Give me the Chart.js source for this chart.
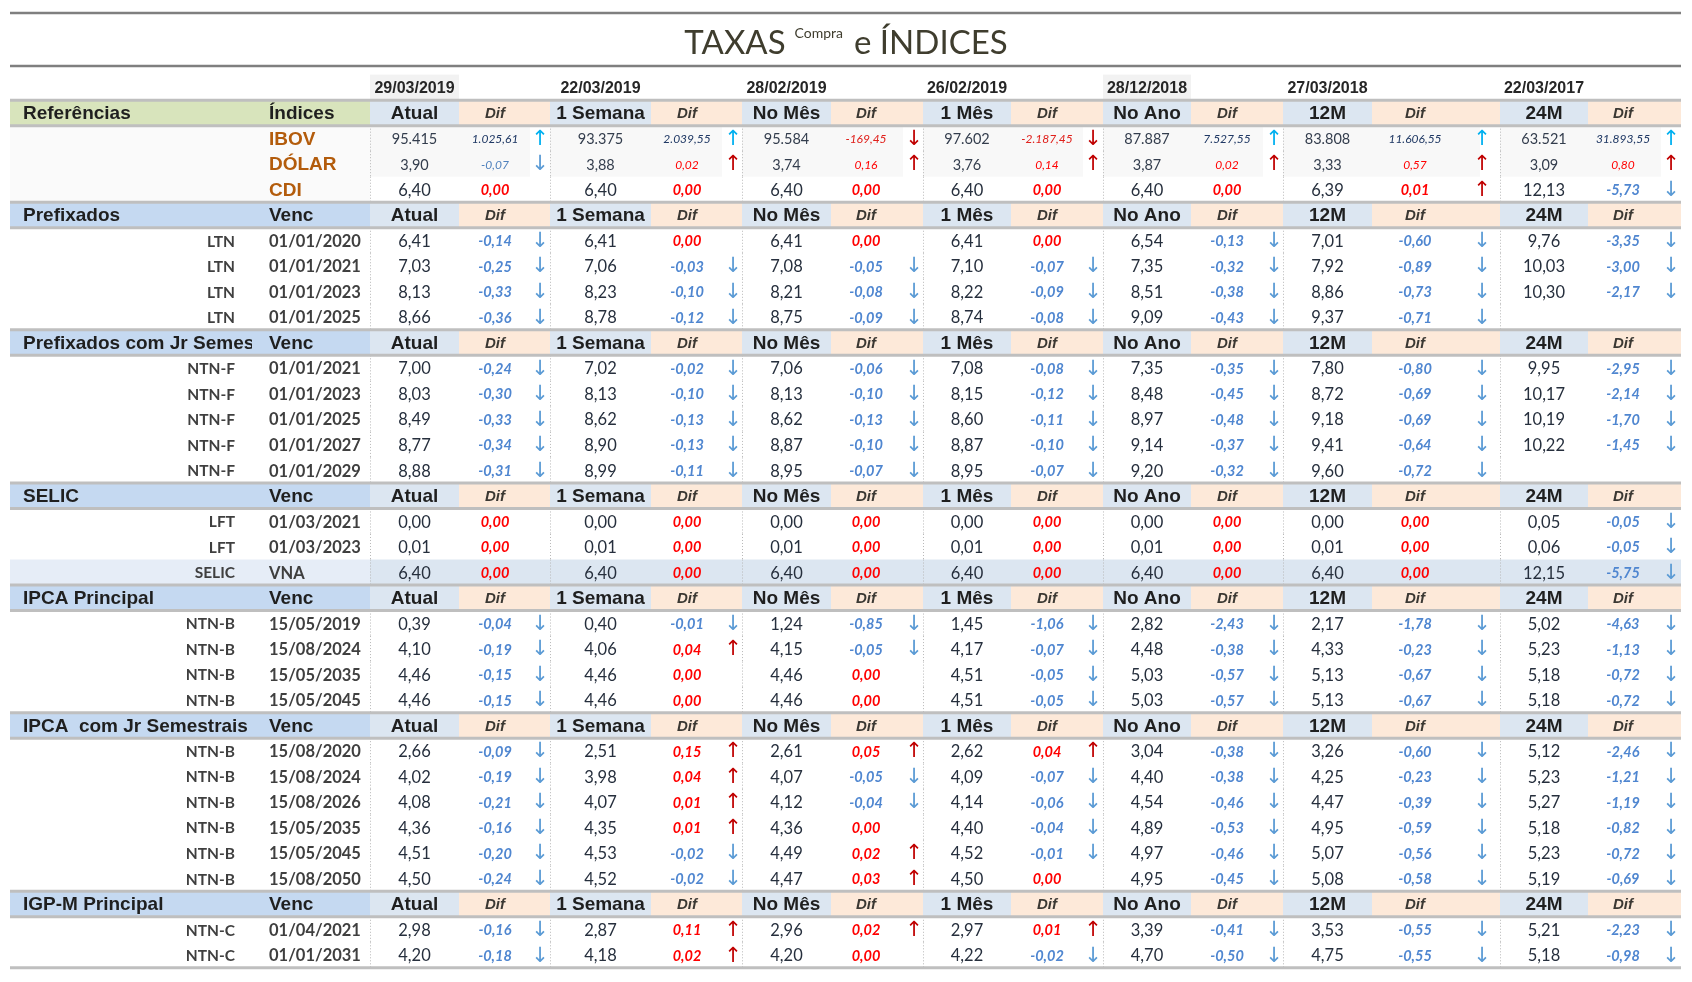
<!DOCTYPE html>
<html lang="pt-BR">
<head>
<meta charset="utf-8">
<title>Taxas Compra e Índices</title>
<script src="https://cdn.jsdelivr.net/npm/chart.js@4.4.1/dist/chart.umd.min.js"></script>
<style>
  html, body { margin: 0; padding: 0; background: #fff; }
  #box { width: 1692px; height: 982px; }
</style>
</head>
<body>
<div id="box"><canvas id="tabela"></canvas></div>
<script>
// colunas e datas de referência
const colunas = ['Atual', '1 Semana', 'No Mês', '1 Mês', 'No Ano', '12M', '24M'];
const datasRef = ['29/03/2019', '22/03/2019', '28/02/2019', '26/02/2019', '28/12/2018', '27/03/2018', '22/03/2017'];
const datasDestaque = ['29/03/2019', '28/12/2018'];

// Referências
const refNomes = ['IBOV', 'DÓLAR', 'CDI'];
const ibovValores = [95415, 93375, 95584, 97602, 87887, 83808, 63521];
const ibovDif = [1025.61, 2039.55, -169.45, -2187.45, 7527.55, 11606.55, 31893.55];
const dolarValores = [3.90, 3.88, 3.74, 3.76, 3.87, 3.33, 3.09];
const dolarDif = [-0.07, 0.02, 0.16, 0.14, 0.02, 0.57, 0.80];
const cdiValores = [6.40, 6.40, 6.40, 6.40, 6.40, 6.39, 12.13];
const cdiDif = [0, 0, 0, 0, 0, 0.01, -5.73];

// Prefixados (LTN)
const ltnVenc = ['01/01/2020', '01/01/2021', '01/01/2023', '01/01/2025'];
const ltnTaxas = [
  [6.41, 6.41, 6.41, 6.41, 6.54, 7.01, 9.76],
  [7.03, 7.06, 7.08, 7.10, 7.35, 7.92, 10.03],
  [8.13, 8.23, 8.21, 8.22, 8.51, 8.86, 10.30],
  [8.66, 8.78, 8.75, 8.74, 9.09, 9.37, null]
];
const ltnDif = [
  [-0.14, 0, 0, 0, -0.13, -0.60, -3.35],
  [-0.25, -0.03, -0.05, -0.07, -0.32, -0.89, -3.00],
  [-0.33, -0.10, -0.08, -0.09, -0.38, -0.73, -2.17],
  [-0.36, -0.12, -0.09, -0.08, -0.43, -0.71, null]
];

// Prefixados com juros semestrais (NTN-F)
const ntnfVenc = ['01/01/2021', '01/01/2023', '01/01/2025', '01/01/2027', '01/01/2029'];
const ntnfTaxas = [
  [7.00, 7.02, 7.06, 7.08, 7.35, 7.80, 9.95],
  [8.03, 8.13, 8.13, 8.15, 8.48, 8.72, 10.17],
  [8.49, 8.62, 8.62, 8.60, 8.97, 9.18, 10.19],
  [8.77, 8.90, 8.87, 8.87, 9.14, 9.41, 10.22],
  [8.88, 8.99, 8.95, 8.95, 9.20, 9.60, null]
];
const ntnfDif = [
  [-0.24, -0.02, -0.06, -0.08, -0.35, -0.80, -2.95],
  [-0.30, -0.10, -0.10, -0.12, -0.45, -0.69, -2.14],
  [-0.33, -0.13, -0.13, -0.11, -0.48, -0.69, -1.70],
  [-0.34, -0.13, -0.10, -0.10, -0.37, -0.64, -1.45],
  [-0.31, -0.11, -0.07, -0.07, -0.32, -0.72, null]
];

// SELIC
const selicPapeis = ['LFT', 'LFT', 'SELIC'];
const selicVenc = ['01/03/2021', '01/03/2023', 'VNA'];
const selicTaxas = [
  [0.00, 0.00, 0.00, 0.00, 0.00, 0.00, 0.05],
  [0.01, 0.01, 0.01, 0.01, 0.01, 0.01, 0.06],
  [6.40, 6.40, 6.40, 6.40, 6.40, 6.40, 12.15]
];
const selicDif = [
  [0, 0, 0, 0, 0, 0, -0.05],
  [0, 0, 0, 0, 0, 0, -0.05],
  [0, 0, 0, 0, 0, 0, -5.75]
];

// IPCA principal (NTN-B)
const ipcaVenc = ['15/05/2019', '15/08/2024', '15/05/2035', '15/05/2045'];
const ipcaTaxas = [
  [0.39, 0.40, 1.24, 1.45, 2.82, 2.17, 5.02],
  [4.10, 4.06, 4.15, 4.17, 4.48, 4.33, 5.23],
  [4.46, 4.46, 4.46, 4.51, 5.03, 5.13, 5.18],
  [4.46, 4.46, 4.46, 4.51, 5.03, 5.13, 5.18]
];
const ipcaDif = [
  [-0.04, -0.01, -0.85, -1.06, -2.43, -1.78, -4.63],
  [-0.19, 0.04, -0.05, -0.07, -0.38, -0.23, -1.13],
  [-0.15, 0, 0, -0.05, -0.57, -0.67, -0.72],
  [-0.15, 0, 0, -0.05, -0.57, -0.67, -0.72]
];

// IPCA com juros semestrais (NTN-B)
const ipcaJrVenc = ['15/08/2020', '15/08/2024', '15/08/2026', '15/05/2035', '15/05/2045', '15/08/2050'];
const ipcaJrTaxas = [
  [2.66, 2.51, 2.61, 2.62, 3.04, 3.26, 5.12],
  [4.02, 3.98, 4.07, 4.09, 4.40, 4.25, 5.23],
  [4.08, 4.07, 4.12, 4.14, 4.54, 4.47, 5.27],
  [4.36, 4.35, 4.36, 4.40, 4.89, 4.95, 5.18],
  [4.51, 4.53, 4.49, 4.52, 4.97, 5.07, 5.23],
  [4.50, 4.52, 4.47, 4.50, 4.95, 5.08, 5.19]
];
const ipcaJrDif = [
  [-0.09, 0.15, 0.05, 0.04, -0.38, -0.60, -2.46],
  [-0.19, 0.04, -0.05, -0.07, -0.38, -0.23, -1.21],
  [-0.21, 0.01, -0.04, -0.06, -0.46, -0.39, -1.19],
  [-0.16, 0.01, 0, -0.04, -0.53, -0.59, -0.82],
  [-0.20, -0.02, 0.02, -0.01, -0.46, -0.56, -0.72],
  [-0.24, -0.02, 0.03, 0, -0.45, -0.58, -0.69]
];

// IGP-M principal (NTN-C)
const igpmVenc = ['01/04/2021', '01/01/2031'];
const igpmTaxas = [
  [2.98, 2.87, 2.96, 2.97, 3.39, 3.53, 5.21],
  [4.20, 4.18, 4.20, 4.22, 4.70, 4.75, 5.18]
];
const igpmDif = [
  [-0.16, 0.11, 0.02, 0.01, -0.41, -0.55, -2.23],
  [-0.18, 0.02, 0, -0.02, -0.50, -0.55, -0.98]
];

const secoes = [
  { titulo: 'Prefixados', papel: 'LTN', venc: ltnVenc, taxas: ltnTaxas, dif: ltnDif },
  { titulo: 'Prefixados com Jr Semestrais', papel: 'NTN-F', venc: ntnfVenc, taxas: ntnfTaxas, dif: ntnfDif },
  { titulo: 'SELIC', papel: selicPapeis, venc: selicVenc, taxas: selicTaxas, dif: selicDif },
  { titulo: 'IPCA Principal', papel: 'NTN-B', venc: ipcaVenc, taxas: ipcaTaxas, dif: ipcaDif },
  { titulo: 'IPCA  com Jr Semestrais', papel: 'NTN-B', venc: ipcaJrVenc, taxas: ipcaJrTaxas, dif: ipcaJrDif },
  { titulo: 'IGP-M Principal', papel: 'NTN-C', venc: igpmVenc, taxas: igpmTaxas, dif: igpmDif }
];

// posições horizontais das colunas (unidades do eixo x)
const L = {
  tabIni: 10, tabFim: 1681,
  tituloIni: 23, clipTitulo: 252, vencIni: 269, papelFim: 235,
  valIni: [370, 550, 742, 923, 1103, 1283, 1500],
  difIni: [459, 651, 831, 1011, 1191, 1372, 1588],
  difFim: [550, 742, 923, 1103, 1283, 1500, 1681],
  difCentro: [495, 687, 866, 1047, 1227, 1415, 1623],
  seta: [540, 733, 914, 1093, 1274, 1482, 1671]
};
const valCentro = i => (L.valIni[i] + L.difIni[i]) / 2;

const ARIAL = '"Liberation Sans", Arial, sans-serif';
const CALI = 'Lato, "Open Sans", sans-serif';
const F = {
  head: 'bold 19px ' + ARIAL,
  difH: 'italic bold 15px ' + ARIAL,
  data: 'bold 16px ' + ARIAL,
  ref: 'bold 19px ' + ARIAL,
  val: '16.5px ' + CALI,
  valP: '14.5px ' + CALI,
  dif: 'italic bold 14.5px ' + CALI,
  difP: 'italic 12px ' + CALI,
  papel: 'bold 15.5px ' + CALI,
  venc: 'bold 16.5px ' + CALI,
  seta: '21px "DejaVu Sans", sans-serif'
};
const AZUL = '#4f86d0', VERM = '#ff0000', SETA_AZ = '#5b9bd5', SETA_VM = '#c00000';

function fmt(v, dec) {
  const neg = v < 0;
  const partes = Math.abs(v).toFixed(dec).split('.');
  const inteiro = partes[0].replace(/\B(?=(\d{3})+(?!\d))/g, '.');
  return (neg ? '-' : '') + inteiro + (partes[1] ? ',' + partes[1] : '');
}

const celulas = [];
const cabecalhos = [];
const faixas = [];
function add(x, y, t, f, c, a, clip) {
  celulas.push({ x: x, y: y, t: t, f: f, c: c, a: a || 'center', clip: clip });
}
function cabecalho(r, titulo, sub, fundo) {
  cabecalhos.push({ r: r, fundo: fundo });
  add(L.tituloIni, r, titulo, F.head, '#1f1f1f', 'left', L.clipTitulo);
  add(L.vencIni, r, sub, F.head, '#1f1f1f', 'left');
  colunas.forEach((c, i) => {
    add(valCentro(i), r, c, F.head, '#1f1f1f');
    add(L.difCentro[i], r, 'Dif', F.difH, '#3b3833');
  });
}
function seta(i, r, d, corSobe, corDesce) {
  if (d > 0) add(L.seta[i], r, '↑', F.seta, corSobe);
  else if (d < 0) add(L.seta[i], r, '↓', F.seta, corDesce);
}
function linhaTaxa(r, taxas, dif) {
  taxas.forEach((v, i) => {
    if (v === null) return;
    add(valCentro(i), r, fmt(v, 2), F.val, '#262f3d');
    add(L.difCentro[i], r, fmt(dif[i], 2), F.dif, dif[i] < 0 ? AZUL : VERM);
    seta(i, r, dif[i], SETA_VM, SETA_AZ);
  });
}

// linha 0: datas
datasRef.forEach((d, i) => {
  if (datasDestaque.includes(d)) faixas.push({ r: 0, x0: L.valIni[i], x1: L.difIni[i], cor: '#f2f2f2' });
  add(valCentro(i), 0, d, F.data, '#262626');
});
// referências
cabecalho(1, 'Referências', 'Índices', '#d8e4bc');
faixas.push({ r: 2, x0: L.tabIni, x1: L.valIni[0], cor: '#fafafa', n: 3 });
ibovValores.forEach((v, i) => {
  faixas.push({ r: 2, x0: L.valIni[i], x1: L.difFim[i] - 20, cor: '#f8f8f8', n: 2 });
  add(valCentro(i), 2, fmt(v, 0), F.valP, '#333d4d');
  add(L.difCentro[i], 2, fmt(ibovDif[i], 2), F.difP, ibovDif[i] < 0 ? '#e0201b' : '#1f3864');
  seta(i, 2, ibovDif[i], '#00b0f0', '#c00000');
  add(valCentro(i), 3, fmt(dolarValores[i], 2), F.valP, '#333d4d');
  add(L.difCentro[i], 3, fmt(dolarDif[i], 2), F.difP, dolarDif[i] < 0 ? '#4f81bd' : VERM);
  seta(i, 3, dolarDif[i], SETA_VM, SETA_AZ);
});
refNomes.forEach((n, k) => add(L.vencIni, 2 + k, n, F.ref, '#b35c0c', 'left'));
linhaTaxa(4, cdiValores, cdiDif);

// seções de títulos públicos
let r = 5;
secoes.forEach(s => {
  cabecalho(r, s.titulo, 'Venc', '#c5d9f1');
  r++;
  s.venc.forEach((v, k) => {
    const papel = Array.isArray(s.papel) ? s.papel[k] : s.papel;
    if (v === 'VNA') {
      faixas.push({ r: r, x0: L.tabIni, x1: L.valIni[0], cor: '#e6edf7' });
      faixas.push({ r: r, x0: L.valIni[0], x1: L.tabFim, cor: '#dce6f1' });
    }
    add(L.papelFim, r, papel, F.papel, '#3f3f3f', 'right');
    add(L.vencIni, r, v, F.venc, '#3f3f3f', 'left');
    linhaTaxa(r, s.taxas[k], s.dif[k]);
    r++;
  });
});
const ultimaLinha = r - 1;

const tabelaPlugin = {
  id: 'tabelaTaxas',
  beforeDatasetsDraw(chart) {
    const { ctx, scales: { x, y } } = chart;
    const topo = rr => y.getPixelForValue(rr - 0.5);
    const base = rr => y.getPixelForValue(rr + 0.5);
    ctx.save();
    faixas.forEach(f => {
      const n = f.n || 1;
      ctx.fillStyle = f.cor;
      ctx.fillRect(x.getPixelForValue(f.x0), topo(f.r), x.getPixelForValue(f.x1) - x.getPixelForValue(f.x0), base(f.r + n - 1) - topo(f.r));
    });
    cabecalhos.forEach(h => {
      const y0 = topo(h.r), alt = base(h.r) - y0;
      ctx.fillStyle = h.fundo;
      ctx.fillRect(x.getPixelForValue(L.tabIni), y0, x.getPixelForValue(L.valIni[0]) - x.getPixelForValue(L.tabIni), alt);
      colunas.forEach((c, i) => {
        ctx.fillStyle = '#dce6f1';
        ctx.fillRect(x.getPixelForValue(L.valIni[i]), y0, x.getPixelForValue(L.difIni[i]) - x.getPixelForValue(L.valIni[i]), alt);
        ctx.fillStyle = '#fde9d9';
        ctx.fillRect(x.getPixelForValue(L.difIni[i]), y0, x.getPixelForValue(L.difFim[i]) - x.getPixelForValue(L.difIni[i]), alt);
      });
    });
    // separadores verticais pontilhados
    ctx.strokeStyle = '#b8b8b8';
    ctx.lineWidth = 1;
    ctx.setLineDash([1, 2]);
    const linhasCab = cabecalhos.map(h => h.r);
    for (let rr = 2; rr <= ultimaLinha; rr++) {
      if (linhasCab.includes(rr)) continue;
      L.valIni.forEach(xv => {
        const px = Math.round(x.getPixelForValue(xv)) + 0.5;
        ctx.beginPath();
        ctx.moveTo(px, topo(rr));
        ctx.lineTo(px, base(rr));
        ctx.stroke();
      });
    }
    ctx.setLineDash([]);
    // linhas horizontais dos cabeçalhos
    ctx.strokeStyle = '#bfbfbf';
    ctx.lineWidth = 3;
    const horizontais = [];
    cabecalhos.forEach(h => { horizontais.push(h.r - 0.5, h.r + 0.5); });
    horizontais.push(ultimaLinha + 0.5);
    horizontais.forEach(v => {
      ctx.beginPath();
      ctx.moveTo(x.getPixelForValue(L.tabIni), y.getPixelForValue(v));
      ctx.lineTo(x.getPixelForValue(L.tabFim), y.getPixelForValue(v));
      ctx.stroke();
    });
    // título
    ctx.strokeStyle = '#7f7f7f';
    ctx.lineWidth = 2.5;
    [-2.915, -0.84].forEach(v => {
      ctx.beginPath();
      ctx.moveTo(x.getPixelForValue(L.tabIni), y.getPixelForValue(v));
      ctx.lineTo(x.getPixelForValue(L.tabFim), y.getPixelForValue(v));
      ctx.stroke();
    });
    const fGrande = '33px ' + CALI, fPeq = '14px ' + CALI;
    ctx.fillStyle = '#3f3d2e';
    ctx.textBaseline = 'alphabetic';
    ctx.textAlign = 'left';
    ctx.font = fGrande;
    const w1 = ctx.measureText('TAXAS').width, w3 = ctx.measureText('e ÍNDICES').width;
    ctx.font = fPeq;
    const w2 = ctx.measureText('Compra').width;
    const total = w1 + 9 + w2 + 11 + w3;
    let px = x.getPixelForValue(846) - total / 2;
    const yb = y.getPixelForValue(-1.325), ys = y.getPixelForValue(-1.95);
    ctx.font = fGrande; ctx.fillText('TAXAS', px, yb); px += w1 + 9;
    ctx.font = fPeq; ctx.fillText('Compra', px, ys); px += w2 + 11;
    ctx.font = fGrande; ctx.fillText('e ÍNDICES', px, yb);
    ctx.restore();
  },
  afterDatasetsDraw(chart) {
    const { ctx, scales: { x } } = chart;
    const meta = chart.getDatasetMeta(0);
    const dados = chart.data.datasets[0].data;
    ctx.save();
    ctx.textBaseline = 'middle';
    meta.data.forEach((el, i) => {
      const c = dados[i];
      ctx.save();
      if (c.clip) {
        ctx.beginPath();
        ctx.rect(0, 0, x.getPixelForValue(c.clip), chart.height);
        ctx.clip();
      }
      ctx.font = c.f;
      ctx.fillStyle = c.c;
      ctx.textAlign = c.a;
      ctx.fillText(c.t, el.x, el.y + 1);
      ctx.restore();
    });
    ctx.restore();
  }
};

new Chart(document.getElementById('tabela'), {
  type: 'scatter',
  data: {
    datasets: [{ label: 'células', data: celulas, pointRadius: 0, pointHoverRadius: 0 }]
  },
  options: {
    responsive: true,
    maintainAspectRatio: false,
    animation: false,
    events: [],
    layout: { padding: 0 },
    plugins: { legend: { display: false }, tooltip: { enabled: false }, title: { display: false } },
    scales: {
      x: { type: 'linear', min: 0, max: 1692, display: false },
      y: { type: 'linear', min: -3.4248, max: 35.055, reverse: true, display: false }
    }
  },
  plugins: [tabelaPlugin]
});
</script>
</body>
</html>
